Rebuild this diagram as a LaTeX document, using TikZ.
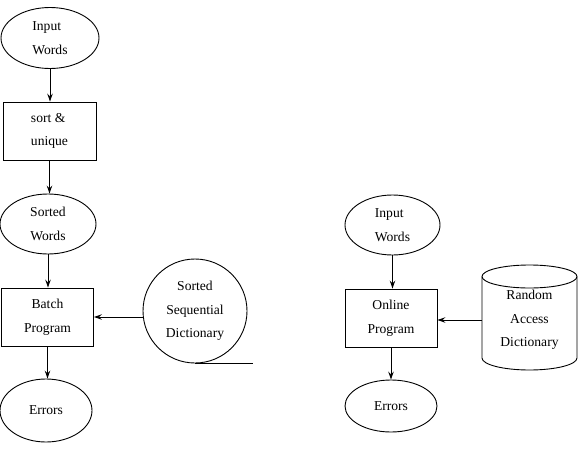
\documentclass[tikz,border=0pt]{standalone}
\usepackage{fontspec}
\setmainfont{Liberation Serif}
\usetikzlibrary{shapes.geometric,arrows.meta}
\begin{document}
\begin{tikzpicture}[x=1pt,y=1pt,
  every node/.style={font=\fontsize{13.6}{23.5}\selectfont, inner sep=0pt, line width=0.9pt},
  oval/.style={draw, ellipse},
  boxnode/.style={draw, rectangle},
  arr/.style={line width=0.9pt, -{Stealth[length=8pt,width=5.5pt,inset=3pt]}},
  plain/.style={line width=0.9pt}]
\useasboundingbox (0,0) rectangle (579,-450);
% left column
\node[oval, minimum width=98pt, minimum height=61pt, align=left] (in1) at (50,-38) {Input\\Words};
\node[boxnode, minimum width=93pt, minimum height=58pt, align=left] (sort) at (49.5,-131) {sort \&\\unique};
\node[oval, minimum width=96pt, minimum height=60pt, align=center] (sw) at (48,-224) {Sorted\\Words};
\node[boxnode, minimum width=92pt, minimum height=58pt, align=center] (batch) at (47.5,-317) {Batch\\Program};
\node[oval, minimum width=92pt, minimum height=63pt] (err1) at (46,-410.5) {Errors};
\node[draw, circle, minimum size=104pt, align=center] (dict) at (195,-311) {Sorted\\Sequential\\Dictionary};
% right column
\node[oval, minimum width=95pt, minimum height=60pt, align=left] (in2) at (392.5,-225) {Input\\Words};
\node[boxnode, minimum width=92pt, minimum height=58pt, align=center] (online) at (391,-318) {Online\\Program};
\node[oval, minimum width=92pt, minimum height=52pt] (err2) at (391,-406) {Errors};
\node[minimum width=95pt, minimum height=80pt, align=center] (cyl) at (529.5,-320) {Random\\Access\\Dictionary};
% cylinder outline
\draw[plain] (529.5,-276.5) ellipse [x radius=47.5, y radius=11.5];
\draw[plain] (482,-276.5) -- (482,-358) arc[start angle=180, end angle=360, x radius=47.5, y radius=12] -- (577,-276.5);
% connectors
\draw[arr] (in1.south) -- (in1.south |- sort.north);
\draw[arr] (sort.south) -- (sort.south |- sw.north);
\draw[arr] (sw.south) -- (sw.south |- batch.north);
\draw[arr] (batch.south) -- (batch.south |- err1.north);
\draw[arr] (dict.west |- batch.east) -- (batch.east);
\draw[plain] (dict.south) -- ++(58,0);
\draw[arr] (in2.south) -- (in2.south |- online.north);
\draw[arr] (online.south) -- (online.south |- err2.north);
\draw[arr] (cyl.west) -- (online.east |- cyl.west);
\end{tikzpicture}
\end{document}
